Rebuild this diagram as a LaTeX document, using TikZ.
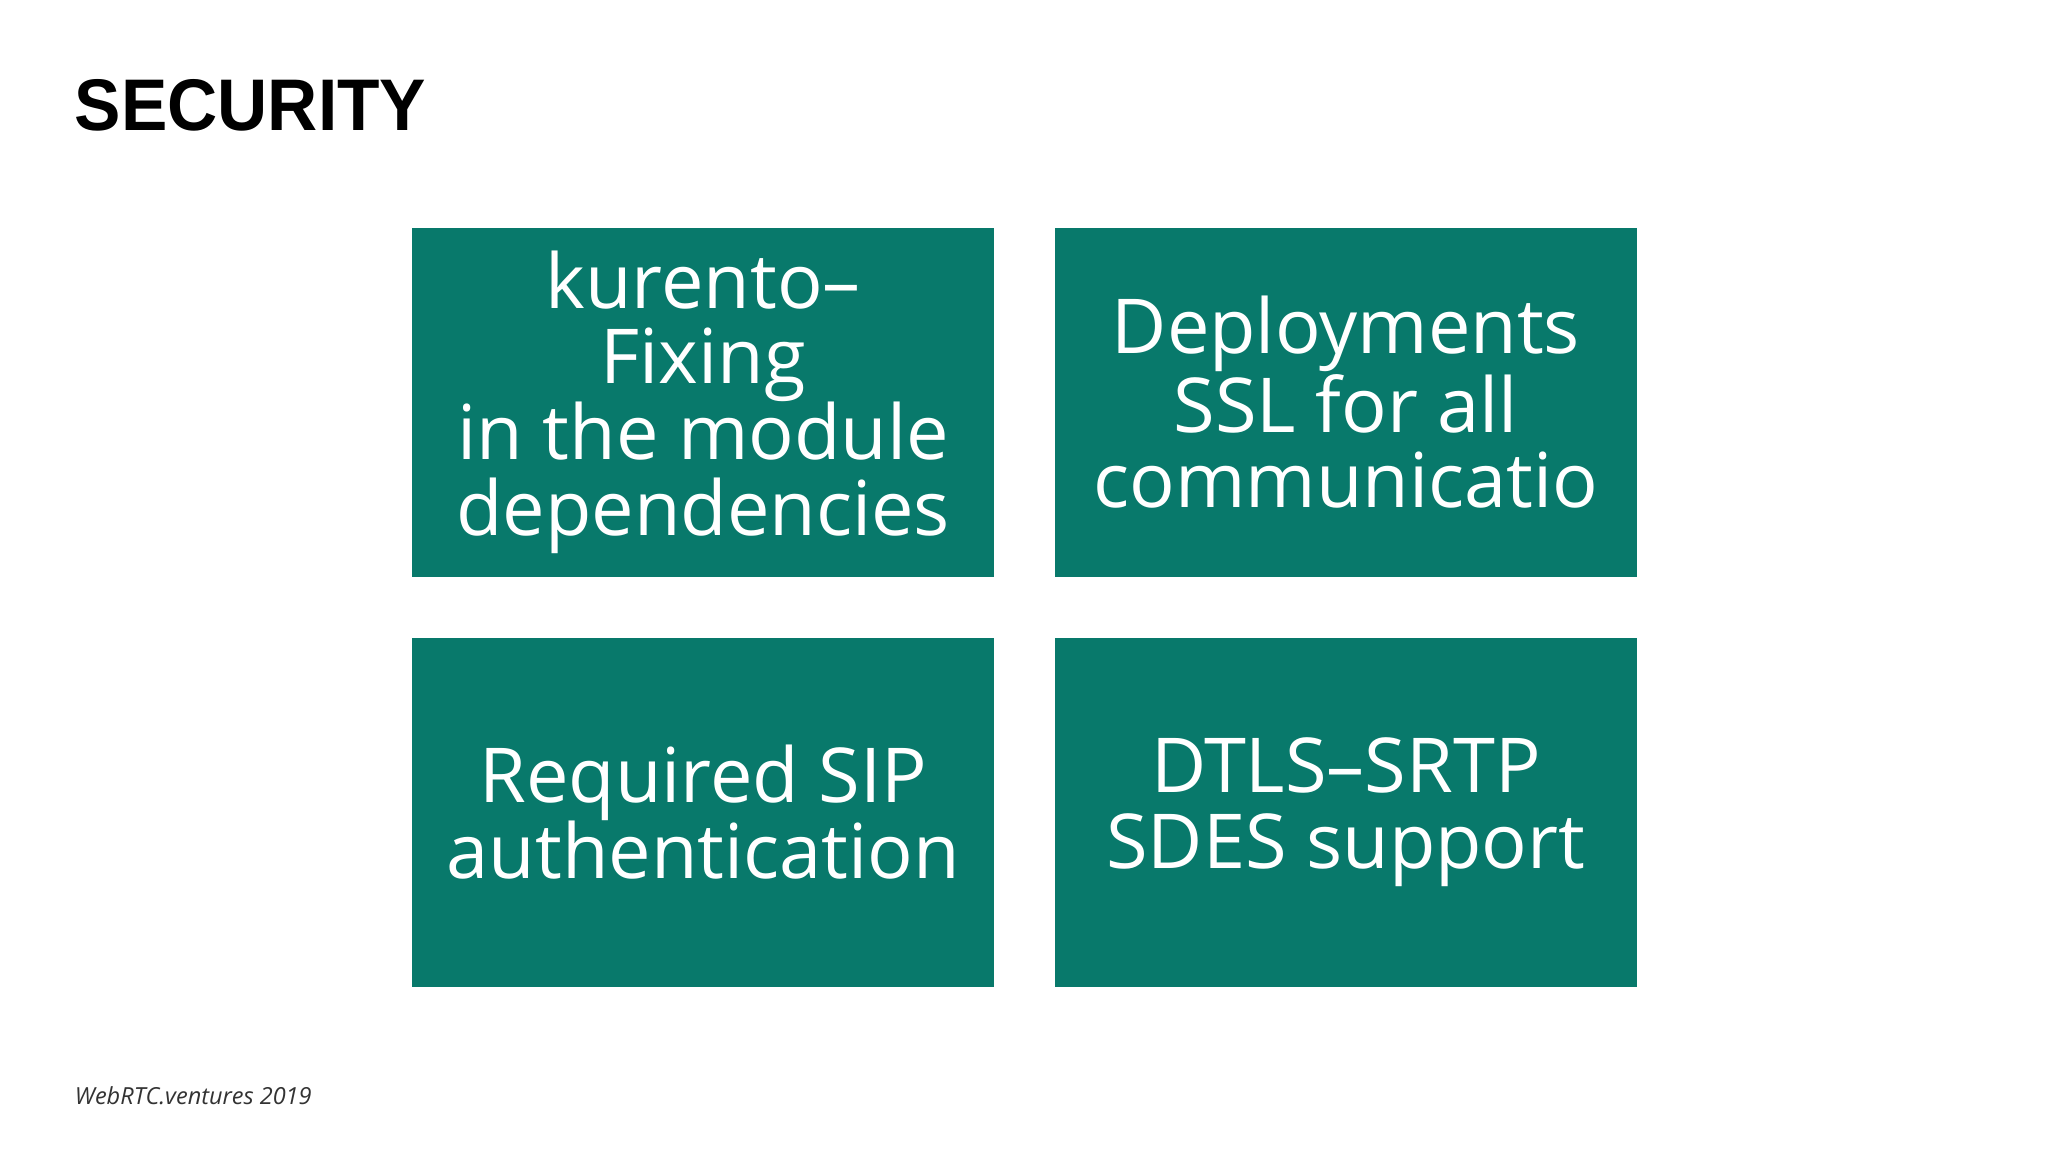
\documentclass[tikz,border=0pt]{standalone}
\usepackage{fontspec}
\setmainfont{Open Sans}
\newfontfamily\titlefont{Liberation Sans}
\definecolor{teal1}{HTML}{08796B}
\begin{document}
\begin{tikzpicture}[x=0.5pt,y=-0.5pt,
  box/.style={fill=teal1,draw=none,text=white,minimum width=223pt,minimum height=133.5pt,anchor=north west,align=center,font=\fontsize{29}{29}\selectfont,inner sep=0pt}]
\useasboundingbox[fill=white] (0,0) rectangle (1568,882);
\node[anchor=west,font=\titlefont\bfseries\fontsize{28}{28}\selectfont,inner sep=0pt,xscale=0.95,transform shape] (title) at (57,81) {SECURITY};
\node[box] (a) at (315,174) {kurento–\\Fixing\\in the module\\dependencies};
\node[box] (b) at (807,174) {Deployments\\SSL for all\\communicatio};
\node[box] (c) at (315,488) {Required SIP\\authentication};
\node[box] (d) at (807,488) {DTLS–SRTP\\SDES support};
\node[anchor=west,inner sep=0pt,font=\itshape\fontsize{9}{9}\selectfont,text=black!80] (f) at (57,839) {WebRTC.ventures 2019};
\end{tikzpicture}
\end{document}
